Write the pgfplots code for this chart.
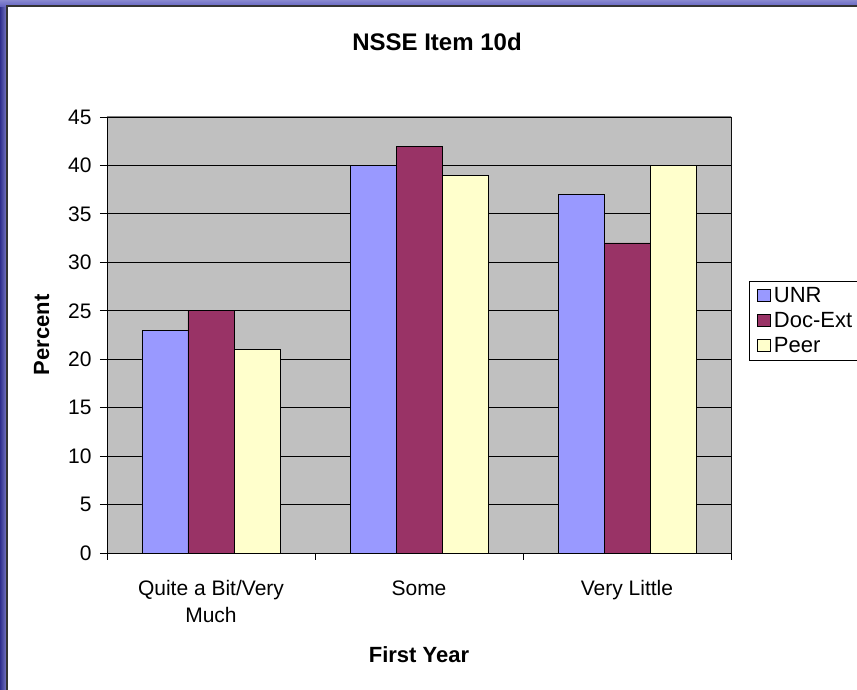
\documentclass[border=0pt]{standalone}
\usepackage{pgfplots}
\pgfplotsset{compat=1.18}
\usepackage{fontspec}
\setmainfont{Liberation Sans}
\definecolor{unr}{HTML}{9999FF}
\definecolor{docext}{HTML}{993366}
\definecolor{peer}{HTML}{FFFFCC}
\definecolor{plotbg}{HTML}{C0C0C0}
\definecolor{frameblue}{HTML}{3A3AB0}
\pgfplotstableread{
x unr doc peer
0 23 25 21
1 40 42 39
2 37 32 40
}\datatable
\begin{document}
\begin{tikzpicture}[x=1pt,y=1pt]
\path[use as bounding box] (0,0) rectangle (857,690);
% frame background
\shade[left color=frameblue!80!black, right color=frameblue!60] (0,0) rectangle (8,690);
\shade[top color=frameblue!60, bottom color=frameblue!80] (0,683) rectangle (857,690);
\fill[white] (7,0) rectangle (857,684);
\draw[black!80, line width=1.5pt] (7,0) -- (7,684) -- (857,684);
\node[font=\fontsize{24}{28}\selectfont\bfseries] at (437,648) {NSSE Item 10d};
\begin{axis}[
  at={(107pt,137pt)}, anchor=south west,
  scale only axis, width=624pt, height=436pt,
  xmin=-0.5, xmax=2.5, ymin=0, ymax=45,
  ybar, bar width=46pt, ybar=0pt,
  ytick={0,5,...,45},
  xtick={0,1,2},
  xticklabels={{Quite a Bit/Very\\Much},{Some},{Very Little}},
  minor xtick={-0.5,0.5,1.5,2.5},
  major x tick style={draw=none},
  minor tick length=7pt, major tick length=7pt,
  tick align=outside, tick pos=lower,
  ymajorgrids, grid style={black, line width=0.8pt},
  minor x grid style={draw=none},
  axis background/.style={fill=plotbg},
  axis line style={black, line width=0.8pt},
  tick style={black, line width=0.8pt},
  /pgf/number format/assume math mode=true,
  ticklabel style={font=\fontsize{21}{26}\selectfont},
  yticklabel style={xshift=-5pt},
  xticklabel style={align=center, yshift=-17pt, text depth=0pt, font=\fontsize{21}{27}\selectfont},
  xlabel={First Year}, ylabel={Percent},
  xlabel style={font=\fontsize{22}{26}\selectfont\bfseries, yshift=-17pt},
  ylabel style={font=\fontsize{22}{26}\selectfont\bfseries, yshift=12pt},
  legend style={at={(1.0288,0.6239)}, anchor=north west, draw=black, fill=white,
    font=\fontsize{22}{24}\selectfont, row sep=4.5pt, inner xsep=8pt, inner ysep=4pt,
    nodes={inner xsep=3pt}},
  legend cell align=left,
  legend image code/.code={\draw[#1, draw=black, line width=0.8pt] (0pt,-6pt) rectangle (13pt,6pt);},
]
\addplot[fill=unr, draw=black, line width=0.8pt] table[x=x, y=unr] {\datatable};
\addplot[fill=docext, draw=black, line width=0.8pt] table[x=x, y=doc] {\datatable};
\addplot[fill=peer, draw=black, line width=0.8pt] table[x=x, y=peer] {\datatable};
\legend{UNR, Doc-Ext, Peer}
\draw[gray, line width=1pt] (rel axis cs:0,1) -- (rel axis cs:1,1) -- (rel axis cs:1,0);
\end{axis}
\end{tikzpicture}
\end{document}
